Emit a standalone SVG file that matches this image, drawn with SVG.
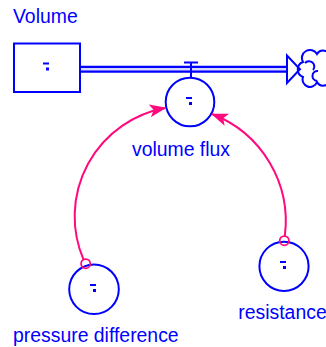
<svg xmlns="http://www.w3.org/2000/svg" width="326" height="347" viewBox="0 0 326 347">
<style>
text{font-family:"Liberation Sans",Arial,sans-serif;font-size:19.4px;fill:#0000ff}
.node{fill:none;stroke:#0000ff;stroke-width:2}
.glyph{fill:#0000ff}
.link{fill:none;stroke:#ff0a7e;stroke-width:2}
.tail{fill:none;stroke:#ff0a7e;stroke-width:1.8}
</style>
<defs>
<g id="g" class="glyph"><rect x="-4" y="-5" width="6" height="2"/><rect x="-1" y="0" width="3" height="3"/></g>
<marker id="ah" viewBox="0 0 17 13" refX="16" refY="6.5" markerWidth="17" markerHeight="13" markerUnits="userSpaceOnUse" orient="auto"><path d="M0,0 L17,6.5 L0,13 L4,6.5 Z" fill="#ff0a7e"/></marker>
</defs>
<g id="flow">
<line x1="81" y1="69.2" x2="287" y2="69.2" stroke="#0000ff" stroke-width="7"/>
<line x1="81" y1="69.2" x2="287" y2="69.2" stroke="#d8d8ff" stroke-width="2.6"/>
<path d="M287,55.5 L287,83 L300,69.2 Z" class="node"/>
<line x1="191" y1="62.5" x2="191" y2="78" stroke="#0000ff" stroke-width="2"/>
<line x1="184" y1="62.5" x2="198" y2="62.5" stroke="#0000ff" stroke-width="2"/>
</g>
<g id="cloud" class="node">
<path d="M303,62 A8,8 0 0 1 317,54 A7,7 0 0 1 330,57 L330,80 A7,7 0 0 1 317,82 A7,7 0 0 1 303,77 A8,8 0 0 1 303,62 Z"/>
<path d="M305,63 A5,5 0 0 1 313,70"/>
<path d="M317,81 A5,5 0 0 1 318,71"/>
</g>
<g id="volume">
<rect x="14" y="43.5" width="66" height="48.5" class="node"/>
<use href="#g" x="47" y="67.5"/>
<text x="13" y="23">Volume</text>
</g>
<g id="volume_flux">
<circle cx="190" cy="102" r="24.3" class="node"/>
<use href="#g" x="190" y="102"/>
<text x="181" y="156" text-anchor="middle">volume flux</text>
</g>
<g id="pressure_difference">
<circle cx="94" cy="289.3" r="24.8" class="node"/>
<use href="#g" x="94" y="289"/>
<text x="13" y="342">pressure difference</text>
</g>
<g id="resistance">
<circle cx="284" cy="266.3" r="24.6" class="node"/>
<use href="#g" x="284" y="266"/>
<text x="282.5" y="319" text-anchor="middle">resistance</text>
</g>
<g id="connectors">
<circle cx="85.7" cy="263.7" r="4.6" class="tail"/>
<path d="M83.5,259.5 A110,110 0 0 1 165.5,108" class="link" marker-end="url(#ah)"/>
<circle cx="284.3" cy="240.7" r="4.6" class="tail"/>
<path d="M284.8,236.2 A115,115 0 0 0 212,114" class="link" marker-end="url(#ah)"/>
</g>
</svg>
